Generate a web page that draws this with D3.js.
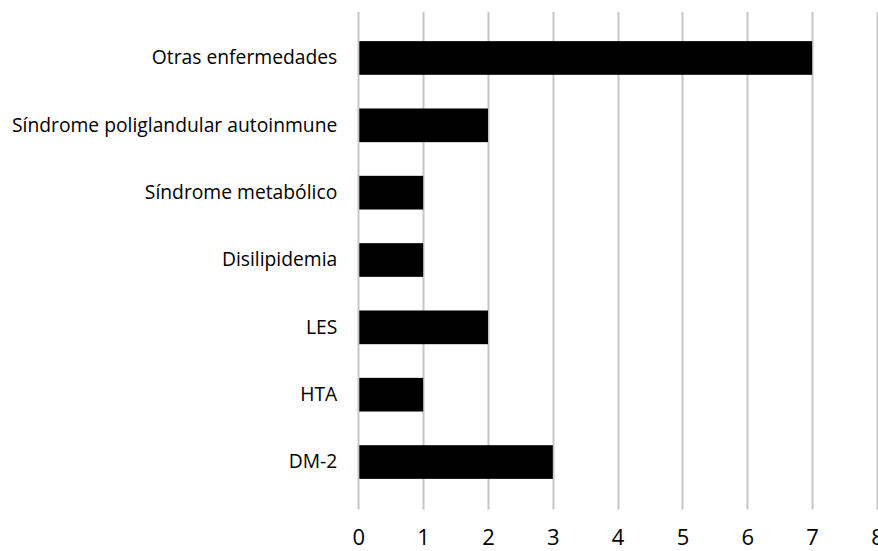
<!DOCTYPE html>
<html><head><meta charset="utf-8">
<script src="https://cdn.jsdelivr.net/npm/d3@7"></script>
<style>body{margin:0;background:#fff}svg{display:block}</style>
</head><body>
<script>
const categories = ["Otras enfermedades","Síndrome poliglandular autoinmune","Síndrome metabólico","Disilipidemia","LES","HTA","DM-2"];
const values = [7,2,1,1,2,1,3];
const xTicks = [0,1,2,3,4,5,6,7,8];

const W = 878, H = 551;
const svg = d3.select("body").append("svg").attr("width", W).attr("height", H);
const x = d3.scaleLinear().domain([0, 8]).range([358.3, 877]);
const y = d3.scaleBand().domain(categories).range([24.3, 495.7]).paddingInner(0.5).paddingOuter(0.25);
const font = "'Open Sans', sans-serif";

svg.append("g").selectAll("line").data(xTicks).join("line")
  .attr("x1", d => Math.round(x(d)) + 0.5).attr("x2", d => Math.round(x(d)) + 0.5)
  .attr("y1", 12).attr("y2", 509.5)
  .attr("stroke", "#c6c6c6").attr("stroke-width", 2);

svg.append("g").selectAll("rect").data(values).join("rect")
  .attr("x", x(0) + 1).attr("y", (d, i) => y(categories[i]))
  .attr("width", d => x(d) - x(0) - 1).attr("height", y.bandwidth())
  .attr("fill", "#000");

const xAxis = d3.axisBottom(x).tickValues(xTicks).tickSize(0).tickPadding(0);
const gx = svg.append("g").call(xAxis);
gx.select(".domain").remove();
gx.selectAll("text").attr("font-family", font).attr("font-size", 22).attr("fill", "#000")
  .attr("y", 545).attr("dy", 0);

const yAxis = d3.axisLeft(y).tickSize(0).tickPadding(21);
const gy = svg.append("g").attr("transform", `translate(${x(0)},0)`).call(yAxis);
gy.select(".domain").remove();
gy.selectAll("text").attr("font-family", font).attr("font-size", 19.3).attr("fill", "#000");
</script>
</body></html>
